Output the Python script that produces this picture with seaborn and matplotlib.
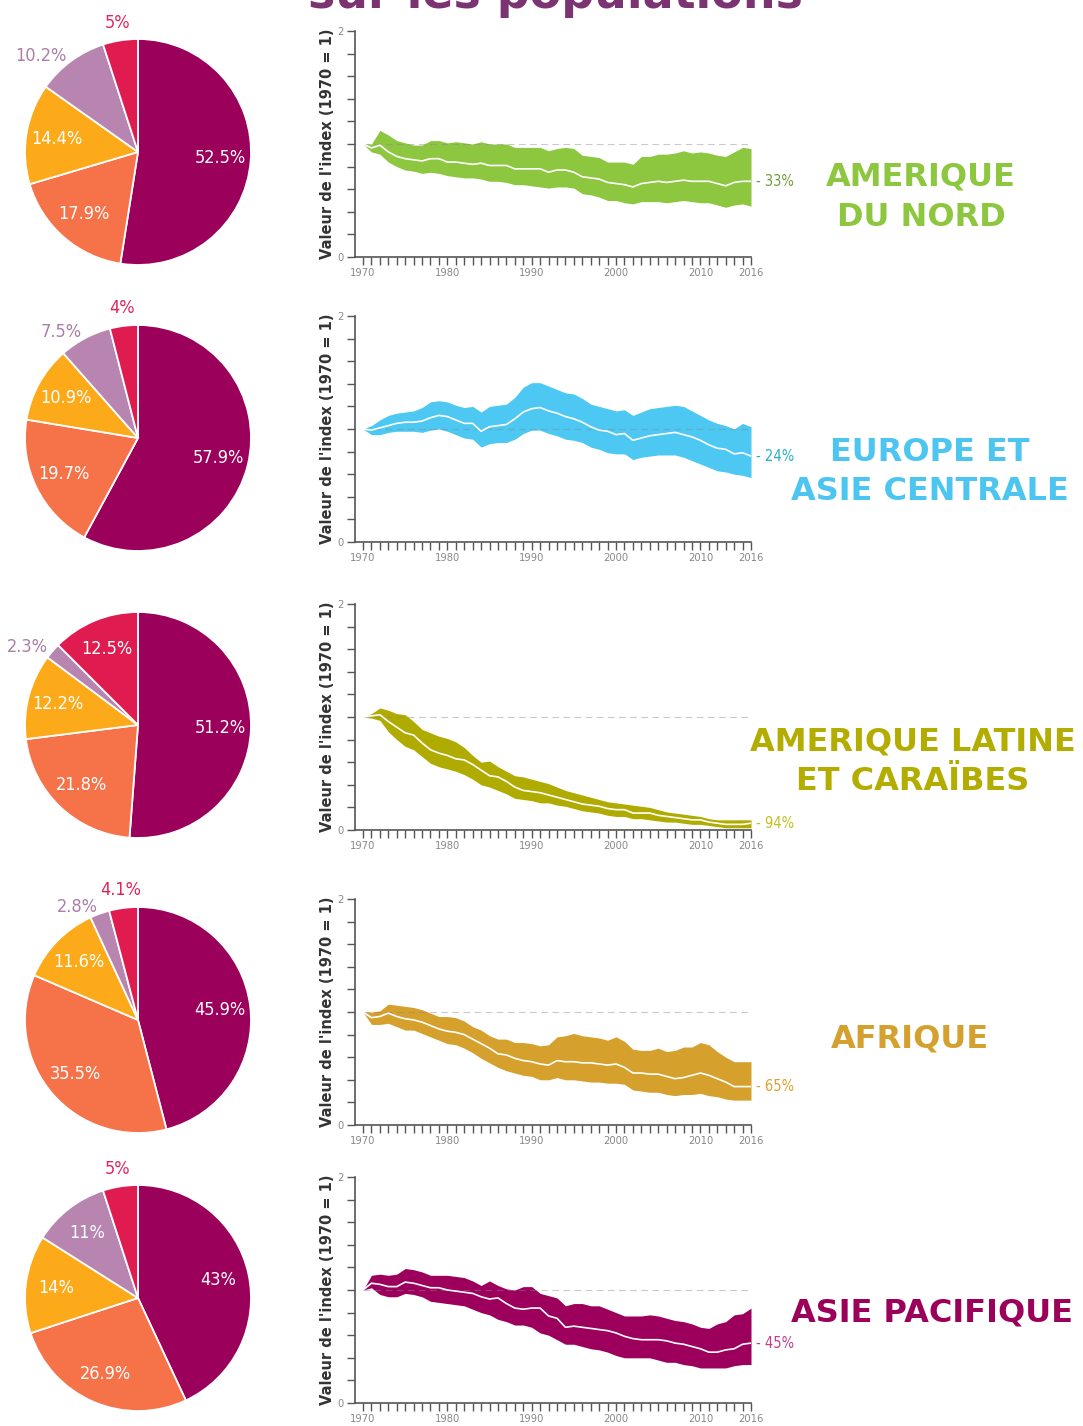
import numpy as np
import pandas as pd
import matplotlib
matplotlib.use("Agg")
import matplotlib.pyplot as plt
import seaborn as sns

# ---- data ----------------------------------------------------------------
years = list(range(1970, 2017))

regions = ["AMERIQUE\nDU NORD", "EUROPE ET\nASIE CENTRALE",
           "AMERIQUE LATINE\nET CARAÏBES", "AFRIQUE", "ASIE PACIFIQUE"]
changes = [33, 24, 94, 65, 45]

# pie shares: big slice, coral, amber, lilac, crimson (clockwise from top)
pie_na = [52.5, 17.9, 14.4, 10.2, 5]
pie_eu = [57.9, 19.7, 10.9, 7.5, 4]
pie_la = [51.2, 21.8, 12.2, 2.3, 12.5]
pie_af = [45.9, 35.5, 11.6, 2.8, 4.1]
pie_ap = [43, 26.9, 14, 11, 5]

na_mean = [1.00, 0.965, 0.99, 0.93, 0.89, 0.87, 0.86, 0.85, 0.87, 0.87,
           0.84, 0.84, 0.83, 0.82, 0.83, 0.81, 0.81, 0.81, 0.78, 0.78,
           0.78, 0.78, 0.75, 0.77, 0.77, 0.75, 0.71, 0.70, 0.69, 0.66,
           0.65, 0.64, 0.62, 0.65, 0.66, 0.67, 0.66, 0.67, 0.68, 0.67,
           0.67, 0.67, 0.65, 0.63, 0.66, 0.67, 0.67]
na_high = [1.00, 1.00, 1.12, 1.08, 1.03, 1.01, 0.99, 0.99, 1.03, 1.03,
           1.01, 1.02, 1.01, 1.00, 1.02, 1.00, 1.00, 1.00, 0.97, 0.97,
           0.97, 0.97, 0.94, 0.96, 0.97, 0.96, 0.90, 0.89, 0.88, 0.84,
           0.84, 0.84, 0.82, 0.89, 0.89, 0.91, 0.91, 0.92, 0.94, 0.92,
           0.93, 0.92, 0.90, 0.89, 0.93, 0.97, 0.96]
na_low = [1.00, 0.93, 0.91, 0.84, 0.80, 0.77, 0.76, 0.74, 0.75, 0.74,
          0.72, 0.71, 0.70, 0.70, 0.69, 0.67, 0.67, 0.66, 0.64, 0.64,
          0.63, 0.62, 0.61, 0.62, 0.62, 0.61, 0.56, 0.55, 0.53, 0.50,
          0.50, 0.48, 0.47, 0.49, 0.49, 0.49, 0.48, 0.49, 0.50, 0.49,
          0.48, 0.48, 0.46, 0.44, 0.46, 0.47, 0.45]

eu_mean = [1.00, 0.99, 1.01, 1.03, 1.05, 1.06, 1.06, 1.07, 1.10, 1.12,
           1.11, 1.08, 1.05, 1.05, 0.98, 1.02, 1.03, 1.04, 1.09, 1.15,
           1.18, 1.19, 1.16, 1.14, 1.11, 1.09, 1.06, 1.02, 0.99, 0.98,
           0.95, 0.96, 0.90, 0.92, 0.94, 0.95, 0.96, 0.97, 0.95, 0.93,
           0.90, 0.86, 0.83, 0.82, 0.78, 0.79, 0.76]
eu_high = [1.00, 1.03, 1.08, 1.12, 1.14, 1.15, 1.16, 1.19, 1.24, 1.25,
           1.24, 1.21, 1.19, 1.20, 1.15, 1.20, 1.21, 1.22, 1.28, 1.37,
           1.41, 1.41, 1.38, 1.35, 1.32, 1.31, 1.27, 1.22, 1.20, 1.18,
           1.16, 1.17, 1.12, 1.15, 1.18, 1.19, 1.20, 1.21, 1.20, 1.16,
           1.12, 1.08, 1.05, 1.03, 1.00, 1.05, 1.02]
eu_low = [1.00, 0.95, 0.95, 0.97, 0.98, 0.98, 0.98, 0.97, 0.99, 1.00,
          0.98, 0.95, 0.92, 0.91, 0.84, 0.87, 0.88, 0.88, 0.91, 0.96,
          0.99, 0.99, 0.96, 0.94, 0.91, 0.90, 0.88, 0.84, 0.82, 0.79,
          0.78, 0.78, 0.73, 0.75, 0.76, 0.77, 0.77, 0.77, 0.75, 0.72,
          0.69, 0.66, 0.63, 0.62, 0.60, 0.59, 0.57]

la_mean = [1.00, 1.01, 1.02, 0.96, 0.91, 0.86, 0.84, 0.77, 0.71, 0.68,
           0.66, 0.63, 0.62, 0.58, 0.53, 0.48, 0.47, 0.43, 0.38, 0.35,
           0.34, 0.33, 0.31, 0.29, 0.27, 0.25, 0.23, 0.22, 0.21, 0.19,
           0.18, 0.18, 0.15, 0.15, 0.15, 0.13, 0.12, 0.11, 0.10, 0.09,
           0.09, 0.07, 0.06, 0.05, 0.05, 0.05, 0.06]
la_high = [1.00, 1.03, 1.08, 1.06, 1.03, 1.02, 0.96, 0.89, 0.86, 0.83,
           0.81, 0.78, 0.73, 0.66, 0.60, 0.61, 0.56, 0.52, 0.48, 0.47,
           0.45, 0.43, 0.41, 0.38, 0.35, 0.33, 0.31, 0.29, 0.27, 0.25,
           0.24, 0.23, 0.22, 0.21, 0.20, 0.18, 0.16, 0.15, 0.14, 0.13,
           0.12, 0.10, 0.09, 0.09, 0.09, 0.09, 0.09]
la_low = [1.00, 0.99, 0.97, 0.87, 0.80, 0.74, 0.71, 0.65, 0.59, 0.56,
          0.54, 0.52, 0.49, 0.45, 0.40, 0.38, 0.35, 0.32, 0.28, 0.27,
          0.26, 0.24, 0.24, 0.22, 0.21, 0.19, 0.17, 0.16, 0.15, 0.13,
          0.12, 0.12, 0.10, 0.10, 0.09, 0.08, 0.07, 0.07, 0.06, 0.05,
          0.05, 0.04, 0.03, 0.02, 0.02, 0.02, 0.02]

af_mean = [1.00, 0.95, 0.96, 0.99, 0.96, 0.94, 0.93, 0.91, 0.88, 0.85,
           0.83, 0.82, 0.80, 0.76, 0.72, 0.68, 0.63, 0.62, 0.59, 0.57,
           0.56, 0.54, 0.53, 0.57, 0.56, 0.56, 0.55, 0.55, 0.54, 0.53,
           0.54, 0.51, 0.46, 0.46, 0.45, 0.45, 0.43, 0.41, 0.42, 0.44,
           0.46, 0.44, 0.41, 0.38, 0.34, 0.34, 0.34]
af_high = [1.00, 1.00, 1.01, 1.07, 1.06, 1.05, 1.04, 1.02, 0.99, 0.96,
           0.96, 0.95, 0.92, 0.87, 0.84, 0.79, 0.76, 0.76, 0.73, 0.73,
           0.72, 0.70, 0.71, 0.78, 0.79, 0.81, 0.79, 0.78, 0.77, 0.75,
           0.78, 0.74, 0.67, 0.66, 0.66, 0.68, 0.65, 0.66, 0.69, 0.69,
           0.73, 0.71, 0.65, 0.60, 0.56, 0.56, 0.56]
af_low = [1.00, 0.89, 0.89, 0.90, 0.87, 0.84, 0.84, 0.81, 0.78, 0.75,
          0.72, 0.71, 0.68, 0.64, 0.59, 0.55, 0.51, 0.48, 0.46, 0.44,
          0.43, 0.40, 0.40, 0.42, 0.40, 0.40, 0.39, 0.38, 0.38, 0.37,
          0.37, 0.36, 0.31, 0.30, 0.29, 0.29, 0.27, 0.26, 0.27, 0.27,
          0.28, 0.26, 0.25, 0.23, 0.22, 0.22, 0.22]

ap_mean = [1.00, 1.06, 1.05, 1.03, 1.03, 1.07, 1.06, 1.04, 1.02, 1.02,
           1.00, 0.99, 0.98, 0.97, 0.94, 0.92, 0.93, 0.88, 0.84, 0.83,
           0.84, 0.84, 0.77, 0.75, 0.67, 0.68, 0.67, 0.66, 0.65, 0.64,
           0.62, 0.59, 0.57, 0.56, 0.56, 0.56, 0.55, 0.53, 0.52, 0.50,
           0.48, 0.45, 0.45, 0.47, 0.48, 0.52, 0.53]
ap_high = [1.00, 1.13, 1.14, 1.13, 1.14, 1.19, 1.18, 1.16, 1.13, 1.13,
           1.13, 1.12, 1.11, 1.08, 1.04, 1.08, 1.04, 1.01, 1.00, 1.03,
           1.03, 0.97, 0.95, 0.93, 0.86, 0.88, 0.88, 0.86, 0.86, 0.83,
           0.80, 0.77, 0.77, 0.77, 0.78, 0.77, 0.75, 0.73, 0.72, 0.70,
           0.67, 0.66, 0.70, 0.72, 0.78, 0.79, 0.84]
ap_low = [1.00, 1.02, 0.96, 0.94, 0.94, 0.97, 0.96, 0.94, 0.90, 0.89,
          0.88, 0.87, 0.86, 0.83, 0.80, 0.78, 0.74, 0.72, 0.69, 0.69,
          0.67, 0.62, 0.60, 0.56, 0.52, 0.52, 0.50, 0.48, 0.47, 0.45,
          0.42, 0.40, 0.40, 0.40, 0.40, 0.38, 0.36, 0.36, 0.34, 0.33,
          0.31, 0.31, 0.31, 0.31, 0.33, 0.34, 0.34]

label_years = [1970, 1980, 1990, 2000, 2010, 2016]

# ---- styles --------------------------------------------------------------
pie_colors = ["#9B005A", "#F6734A", "#FDAA1A", "#B885B1", "#E01B50"]
pie_outside_colors = ["#9B005A", "#F6734A", "#FDAA1A", "#A97FA6", "#E0245E"]
band_colors = ["#8DC63F", "#4CC8F2", "#B0AB00", "#D5A02C", "#9C005C"]
title_colors = ["#8DC63F", "#4CC5F0", "#B2AD00", "#D4A02E", "#9B005A"]
pct_colors = ["#6E9E3C", "#27AFC4", "#C4BE1E", "#E0A02A", "#C13C8B"]

pies = [pie_na, pie_eu, pie_la, pie_af, pie_ap]
means = [na_mean, eu_mean, la_mean, af_mean, ap_mean]
highs = [na_high, eu_high, la_high, af_high, ap_high]
lows = [na_low, eu_low, la_low, af_low, ap_low]

sns.set_style("white")
plt.rcParams["font.family"] = ["DejaVu Sans"]
narrow = dict(family="DejaVu Sans", stretch="condensed")

W, H = 1083, 1426
fig = plt.figure(figsize=(W / 100, H / 100), dpi=100)


def px_box(left, top, w, h):
    return [left / W, 1 - (top + h) / H, w / W, h / H]


pie_tops = [39, 325, 612, 907, 1185]
chart_tops = [31, 316, 604, 899, 1177]
title_pos = [(921, 197), (930, 472), (913, 762), (910, 1039), (932, 1313)]

for i in range(5):
    # pie
    ax = fig.add_axes(px_box(25, pie_tops[i], 226, 226))
    vals = pies[i]
    wedges, _ = ax.pie(vals, colors=pie_colors, startangle=90, counterclock=False,
                       wedgeprops=dict(edgecolor="white", linewidth=1.3))
    ax.set_xlim(-1, 1)
    ax.set_ylim(-1, 1)
    ax.set_aspect("equal")
    ax.axis("off")
    for w, v, oc in zip(wedges, vals, pie_outside_colors):
        mid = ((w.theta1 + w.theta2) / 2) % 360
        ang = np.deg2rad(mid)
        if v >= 10.5:
            r, col, ha = 0.73, "white", "center"
        elif mid > 105:
            r, col, ha = 1.06, oc, "right"
        else:
            r, col, ha = 1.16, oc, "center"
        ax.text(r * np.cos(ang), r * np.sin(ang), f"{v:g}%", ha=ha, va="center",
                color=col, fontsize=13, clip_on=False, **narrow)

    # index chart
    ax = fig.add_axes(px_box(355, chart_tops[i], 396, 226))
    ax.fill_between(years, lows[i], highs[i], color=band_colors[i], lw=0)
    ax.hlines(1, 1970, 2016, colors="#888888", lw=0.8, linestyles=(0, (6, 4)), alpha=0.45)
    sns.lineplot(x=years, y=means[i], ax=ax, color="white", lw=1.2)
    ax.set_xlim(1969.05, 2016)
    ax.set_ylim(0, 2)
    sns.despine(ax=ax)
    for s in ["left", "bottom"]:
        ax.spines[s].set_color("#555555")
        ax.spines[s].set_linewidth(1.2)
    ax.set_yticks([0, 2])
    ax.set_yticks(np.arange(0, 2.01, 0.2), minor=True)
    ax.set_xticks(label_years)
    ax.set_xticks(years, minor=True)
    ax.tick_params(which="both", direction="out", length=6, width=1, color="#555555",
                   left=True, bottom=True)
    ax.tick_params(labelsize=8, labelcolor="#888888", pad=2)
    for t in ax.get_xticklabels() + ax.get_yticklabels():
        t.set_fontstretch("condensed")
    ax.set_ylabel("Valeur de l'index (1970 = 1)", fontsize=10.5, weight="bold",
                  color="#333333")
    ax.yaxis.set_label_coords(-0.05, 0.5)
    ax.annotate(f"- {changes[i]}%", xy=(2016, means[i][-1]), xytext=(5, 0),
                textcoords="offset pixels", ha="left", va="center",
                fontsize=10.5, color=pct_colors[i], **narrow)

    # region title, one text per line
    tx, ty = title_pos[i]
    lines = regions[i].split("\n")
    for k, line in enumerate(lines):
        ly = ty + (k - (len(lines) - 1) / 2) * 40
        fig.text(tx / W, 1 - ly / H, line, ha="center", va="center",
                 fontsize=23, weight="bold", color=title_colors[i])

fig.text(555 / W, 1 - 8 / H, "sur les populations", ha="center", va="baseline",
         fontsize=33, weight="bold", color="#7B3372")

fig.savefig("out.png", dpi=100)
